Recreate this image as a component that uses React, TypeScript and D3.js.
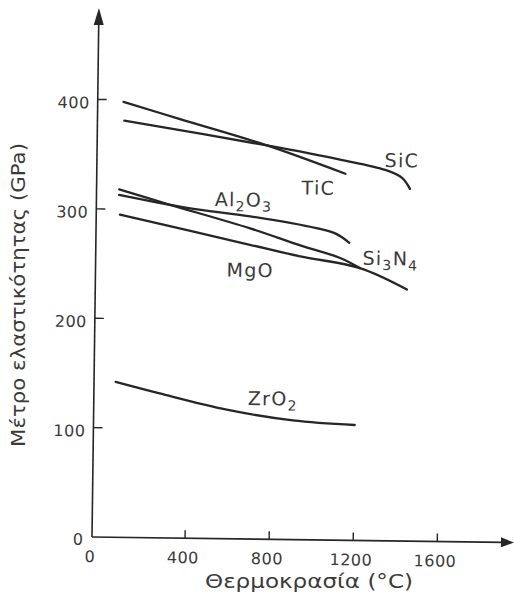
import * as d3 from 'd3'

// E (GPa) vs temperature (°C)
const sic = [[85, 381], [765, 360], [1113, 348], [1330, 339], [1410, 332], [1448, 322]]
const tic = [[80, 398], [350, 383], [765, 360], [1140, 335]]
const al2o3 = [[65, 313], [390, 302], [690, 295], [1005, 285], [1100, 280], [1163, 272]]
const si3n4 = [[65, 318], [300, 305], [690, 284], [930, 269], [1120, 258], [1215, 249]]
const mgo = [[70, 295], [690, 269], [930, 259], [1215, 249], [1440, 230]]
const zro2 = [[60, 142], [270, 132], [590, 118], [905, 109], [1200, 105.5]]

const xTicks = [400, 800, 1200, 1600]
const yTicks = [100, 200, 300, 400]

// label anchors (°C, GPa) and text parts [main, sub, main, sub]
const labels = [
  { at: [1326, 341.7], parts: ['SiC'] },
  { at: [933, 315.6], parts: ['TiC'] },
  { at: [520, 304], parts: ['Al', '2', 'O', '3'] },
  { at: [1227, 252], parts: ['Si', '3', 'N', '4'] },
  { at: [581, 239.6], parts: ['MgO'] },
  { at: [690, 122.5], parts: ['ZrO', '2'] },
]

const W = 514
const H = 599
const originX = 92
const originY = 537
const font = '"DejaVu Sans", sans-serif'
const ink = '#262626'
const textInk = '#3a3a3a'

export default function App() {
  const x = d3.scaleLinear().domain([0, 1600]).range([101, 437.3])
  const y = d3.scaleLinear().domain([0, 400]).range([originY, 99.4])

  const line = d3
    .line<number[]>()
    .x((d) => x(d[0]))
    .y((d) => y(d[1]))
    .curve(d3.curveCatmullRom.alpha(0.5))

  const series = [sic, tic, al2o3, si3n4, mgo, zro2]

  return (
    <svg
      width={W}
      height={H}
      style={{ position: 'absolute', left: 0, top: 0, background: '#fff' }}
    >
      {/* the scan is tilted a little, so the whole plot is too */}
      <g transform={`rotate(0.75, ${originX}, ${originY})`}>
        {/* axes */}
        <line x1={originX} y1={originY} x2={originX} y2={22} stroke={ink} strokeWidth={1.6} />
        <path d={`M${originX},8 L${originX - 5},25 L${originX + 5},25 Z`} fill={ink} />
        <line x1={originX} y1={originY} x2={503} y2={originY} stroke={ink} strokeWidth={1.6} />
        <path d={`M514,${originY} L501,${originY - 5} L501,${originY + 5} Z`} fill={ink} />

        {yTicks.map((t) => (
          <g key={'y' + t}>
            <line x1={originX} x2={originX + 9} y1={y(t)} y2={y(t)} stroke={ink} strokeWidth={1.4} />
            <text
              x={originX - 8}
              y={y(t) + 9}
              textAnchor="end"
              fontFamily={font}
              fontSize={16}
              letterSpacing={0.5}
              fill={textInk}
            >
              {t}
            </text>
          </g>
        ))}
        <text x={originX - 9} y={originY + 8} textAnchor="end" fontFamily={font} fontSize={16} fill={textInk}>
          0
        </text>

        {xTicks.map((t) => (
          <g key={'x' + t}>
            <line x1={x(t)} x2={x(t)} y1={originY} y2={originY - 8} stroke={ink} strokeWidth={1.4} />
            <text
              x={x(t) - 2}
              y={originY + 25}
              textAnchor="middle"
              fontFamily={font}
              fontSize={16}
              letterSpacing={0.5}
              fill={textInk}
            >
              {t}
            </text>
          </g>
        ))}
        <text x={originX - 2} y={originY + 25} textAnchor="middle" fontFamily={font} fontSize={16} fill={textInk}>
          0
        </text>

        {/* curves */}
        {series.map((s, i) => (
          <path key={i} d={line(s) || ''} fill="none" stroke={ink} strokeWidth={2.3} strokeLinecap="round" />
        ))}

        {labels.map((l, i) => (
          <text
            key={i}
            x={x(l.at[0])}
            y={y(l.at[1])}
            fontFamily={font}
            fontSize={19}
            letterSpacing={1.3}
            fill={textInk}
          >
            {l.parts.map((p, j) =>
              j % 2 === 0 ? (
                <tspan key={j} fontSize={19} dy={j === 0 ? 0 : -5}>
                  {p}
                </tspan>
              ) : (
                <tspan key={j} fontSize={14} dy={5}>
                  {p}
                </tspan>
              )
            )}
          </text>
        ))}
      </g>

      {/* axis titles */}
      <text
        x={309}
        y={588}
        textAnchor="middle"
        fontFamily={font}
        fontSize={20}
        textLength={208}
        lengthAdjust="spacingAndGlyphs"
        fill={textInk}
      >
        Θερμοκρασία (°C)
      </text>
      <text
        transform="translate(25, 295) rotate(-90)"
        textAnchor="middle"
        fontFamily={font}
        fontSize={20}
        textLength={304}
        lengthAdjust="spacingAndGlyphs"
        fill={textInk}
      >
        Μέτρο ελαστικότητας (GPa)
      </text>
    </svg>
  )
}
